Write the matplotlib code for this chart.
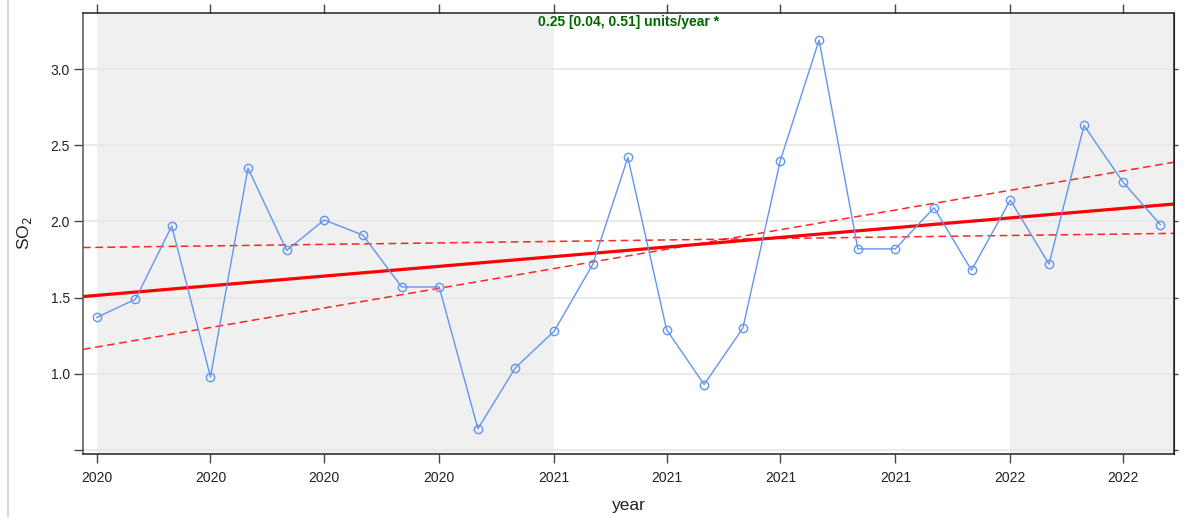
import numpy as np
import pandas as pd
import matplotlib.pyplot as plt
import matplotlib.dates as mdates
from matplotlib.lines import Line2D

plt.rcParams["font.family"] = ["Liberation Sans", "DejaVu Sans"]

# monthly means
months = pd.date_range("2020-01-01", "2022-05-01", freq="MS")
so2 = [1.37, 1.49, 1.97, 0.98, 2.35, 1.81, 2.01, 1.91, 1.57, 1.57, 0.64, 1.04,
       1.28, 1.72, 2.42, 1.29, 0.93, 1.30, 2.40, 3.19, 1.82, 1.82, 2.09, 1.68,
       2.14, 1.72, 2.63, 2.26, 1.98]

# Theil-Sen trend: slope (units/year) and value at 2020-01-01
trend_slope = 0.254
trend_lower = 0.039
trend_upper = 0.514
trend_start = 1.515
lower_start = 1.830
upper_start = 1.176

yticks = [0.5, 1.0, 1.5, 2.0, 2.5, 3.0]
ytick_labels = ["", "1.0", "1.5", "2.0", "2.5", "3.0"]
x_from = pd.Timestamp("2019-12-21")
x_to = pd.Timestamp("2022-05-12")

fig = plt.figure(figsize=(11.85, 5.17), dpi=100)
ax = fig.add_axes([83 / 1185, 1 - 454 / 517, 1091 / 1185, 441 / 517])

# alternating year shading
for yr in range(2020, 2023, 2):
    a = max(pd.Timestamp(f"{yr}-01-01"), x_from)
    b = min(pd.Timestamp(f"{yr + 1}-01-01"), x_to)
    ax.axvspan(a, b, color="#f0f0f0", lw=0, zorder=0)

for y in yticks:
    ax.axhline(y, color="#e8e8e8", lw=1.3, zorder=0.5)

# trend lines across the whole panel
ends = pd.to_datetime([x_from, x_to])
yrs = (ends - months[0]).days / 365.25
ax.plot(ends, trend_start + trend_slope * yrs, color="red", lw=2.3, zorder=2)
ax.plot(ends, lower_start + trend_lower * yrs, color="red", lw=1.1, alpha=0.85,
        dashes=(5, 3), zorder=2)
ax.plot(ends, upper_start + trend_upper * yrs, color="red", lw=1.1, alpha=0.85,
        dashes=(5, 3), zorder=2)

ax.plot(months, so2, color="cornflowerblue", lw=1, marker="o", markersize=6,
        markerfacecolor="none", markeredgewidth=1, zorder=3)

label = f"{trend_slope:.2f} [{trend_lower:.2f}, {trend_upper:.2f}] units/year *"
ax.text(0.5, 0.98, label, transform=ax.transAxes, ha="center", va="center",
        color="darkgreen", fontsize=10, fontweight="bold")

ax.set_xlim(x_from, x_to)
ax.set_ylim(0.474, 3.368)
ax.set_yticks(yticks)
ax.set_yticklabels(ytick_labels)
ax.xaxis.set_major_locator(mdates.MonthLocator(bymonth=[1, 4, 7, 10]))
ax.xaxis.set_major_formatter(mdates.DateFormatter("%Y"))

ax.tick_params(axis="both", direction="out", length=6.5, width=1,
               color="#444444", labelsize=10, labelcolor="#222222", pad=3)
ax.tick_params(axis="x", top=True, pad=6)

right = ax.secondary_yaxis("right")
right.set_yticks(yticks)
right.set_yticklabels([])
right.tick_params(length=3, width=1, color="#444444")
right.spines["right"].set_color("#222222")

for side in ["top", "right", "bottom"]:
    ax.spines[side].set_color("#222222")
ax.spines["left"].set_color("#555555")
for s in ax.spines.values():
    s.set_linewidth(1.1)

ax.set_xlabel("year", fontsize=12.5, color="#222222", labelpad=9)
ax.set_ylabel("SO$_2$", fontsize=12.5, color="#222222", labelpad=12)

fig.add_artist(Line2D([8 / 1185, 8 / 1185], [0, 1], color="#d9d9d9", lw=1.5,
                      transform=fig.transFigure))

fig.savefig("out.png", dpi=100)
